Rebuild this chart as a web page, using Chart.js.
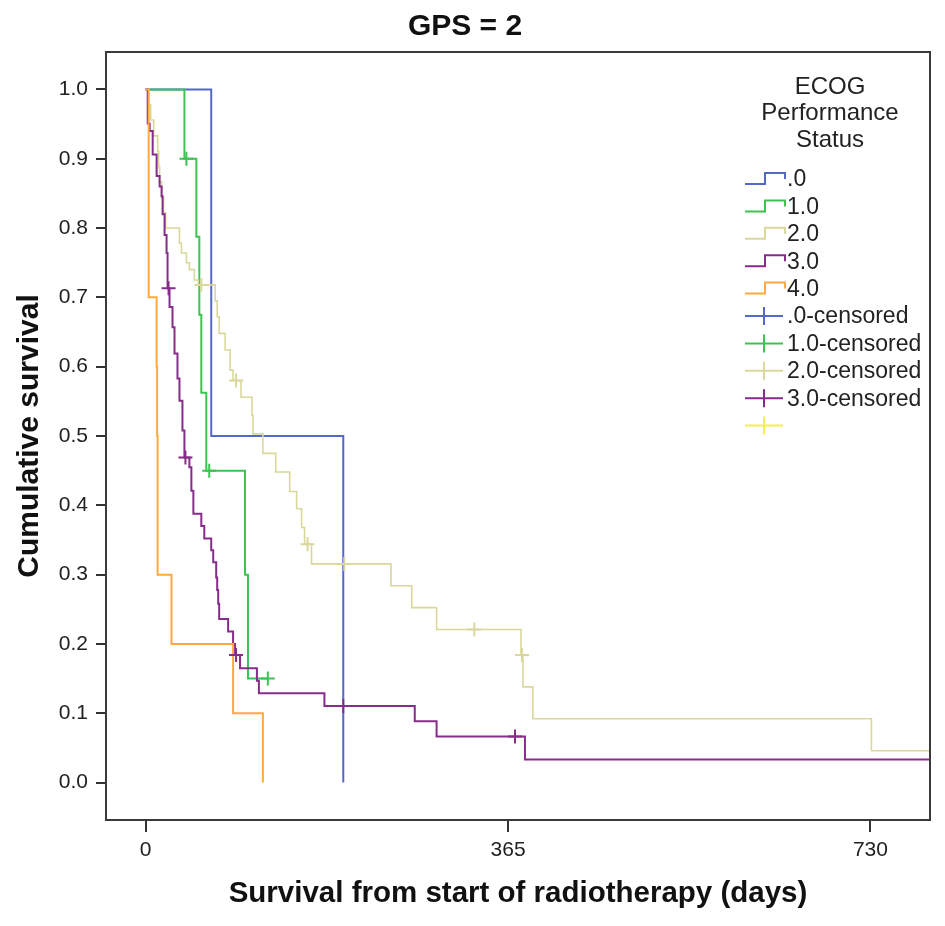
<!DOCTYPE html>
<html>
<head>
<meta charset="utf-8">
<script src="https://cdn.jsdelivr.net/npm/chart.js@4.4.1/dist/chart.umd.min.js"></script>
<style>
html,body{margin:0;padding:0;background:#ffffff;}
#wrap{width:945px;height:926px;position:relative;}
</style>
</head>
<body>
<div id="wrap"><canvas id="c"></canvas></div>
<script>
// ---------- text ----------
const chartTitle = 'GPS = 2';
const xAxisTitle = 'Survival from start of radiotherapy (days)';
const yAxisTitle = 'Cumulative survival';
const legendTitle = ['ECOG', 'Performance', 'Status'];
const groupLabels = ['.0', '1.0', '2.0', '3.0', '4.0'];
const censoredLabels = ['.0-censored', '1.0-censored', '2.0-censored', '3.0-censored', ''];

// ---------- ticks ----------
const xTickValues = [0, 365, 730];
const yTickValues = [0.0, 0.1, 0.2, 0.3, 0.4, 0.5, 0.6, 0.7, 0.8, 0.9, 1.0];

// ---------- ECOG .0 ----------
const ecog0Days = [0, 66, 199];
const ecog0Surv = [1.0, 0.5, 0.0];
const ecog0CensDays = [];
const ecog0CensSurv = [];

// ---------- ECOG 1.0 ----------
const ecog1Days = [0, 39, 51, 54, 56, 61, 100, 103, 123];
const ecog1Surv = [1.0, 0.9, 0.7875, 0.675, 0.5625, 0.45, 0.3, 0.15, 0.15];
const ecog1CensDays = [41, 64, 123];
const ecog1CensSurv = [0.9, 0.45, 0.15];

// ---------- ECOG 2.0 ----------
const ecog2Days = [0, 3, 5, 8, 12, 13, 14, 16, 18, 20, 34, 36, 41, 44, 49, 53, 70, 72, 74, 80, 85, 88, 96, 107, 108, 118, 131, 145, 152, 157, 160, 167, 247, 268, 293, 378, 380, 390, 731, 800];
const ecog2Surv = [1.0, 0.978, 0.956, 0.933, 0.911, 0.889, 0.867, 0.844, 0.822, 0.8, 0.778, 0.764, 0.75, 0.74, 0.725, 0.718, 0.695, 0.672, 0.648, 0.624, 0.595, 0.58, 0.556, 0.53, 0.503, 0.475, 0.448, 0.42, 0.395, 0.368, 0.344, 0.3155, 0.284, 0.2524, 0.2209, 0.184, 0.138, 0.092, 0.046, 0.046];
const ecog2CensDays = [56, 91, 163, 200, 331, 379];
const ecog2CensSurv = [0.718, 0.58, 0.344, 0.3155, 0.2209, 0.184];

// ---------- ECOG 3.0 ----------
const ecog3Days = [0, 2, 4, 7, 11, 14, 16, 17, 19, 21, 22, 24, 27, 29, 32, 34, 37, 39, 44, 46, 48, 56, 59, 66, 68, 71, 72, 73, 74, 83, 88, 90, 95, 112, 114, 180, 271, 293, 382, 800];
const ecog3Surv = [1.0, 0.951, 0.94, 0.906, 0.875, 0.86, 0.846, 0.82, 0.79, 0.764, 0.713, 0.686, 0.657, 0.619, 0.583, 0.551, 0.508, 0.469, 0.455, 0.421, 0.388, 0.37, 0.352, 0.335, 0.318, 0.296, 0.278, 0.258, 0.236, 0.218, 0.2, 0.184, 0.165, 0.147, 0.129, 0.1106, 0.0885, 0.0664, 0.0332, 0.0332];
const ecog3CensDays = [23, 40, 91, 199, 372];
const ecog3CensSurv = [0.713, 0.469, 0.184, 0.1106, 0.0664];

// ---------- ECOG 4.0 ----------
const ecog4Days = [0, 3, 11, 11.5, 12, 26, 88, 118];
const ecog4Surv = [1.0, 0.7, 0.6, 0.5, 0.3, 0.2, 0.1, 0.0];
const ecog4CensDays = [];
const ecog4CensSurv = [];

// ---------- styling ----------
const lineColors = ['#5468c8', '#3cc452', '#d9d89b', '#862d8a', '#ffa940'];
const censColors = ['#5468c8', '#3cc452', '#d9d89b', '#862d8a', '#f4ef55'];

const allDays = [ecog0Days, ecog1Days, ecog2Days, ecog3Days, ecog4Days];
const allSurv = [ecog0Surv, ecog1Surv, ecog2Surv, ecog3Surv, ecog4Surv];
const allCensDays = [ecog0CensDays, ecog1CensDays, ecog2CensDays, ecog3CensDays, ecog4CensDays];
const allCensSurv = [ecog0CensSurv, ecog1CensSurv, ecog2CensSurv, ecog3CensSurv, ecog4CensSurv];

function pts(days, surv) { return days.map((d, i) => ({x: d, y: surv[i]})); }

const datasets = [];
groupLabels.forEach((lab, i) => {
  datasets.push({
    type: 'line',
    label: lab,
    data: pts(allDays[i], allSurv[i]),
    stepped: true,
    borderColor: lineColors[i],
    borderWidth: i === 2 ? 1.6 : 2,
    pointRadius: 0,
    fill: false,
    order: 10 - i
  });
});
censoredLabels.forEach((lab, i) => {
  datasets.push({
    type: 'scatter',
    label: lab,
    data: pts(allCensDays[i], allCensSurv[i]),
    showLine: false,
    pointStyle: 'cross',
    pointRadius: 7,
    pointBorderWidth: 2,
    borderColor: censColors[i],
    backgroundColor: censColors[i],
    order: 0
  });
});

Chart.defaults.font.family = "'Liberation Sans', Arial, sans-serif";
Chart.defaults.color = '#222';

const framePlugin = {
  id: 'frame',
  afterDraw(chart) {
    const {ctx, chartArea: a} = chart;
    ctx.save();
    ctx.strokeStyle = '#3a3a3a';
    ctx.lineWidth = 2;
    ctx.strokeRect(a.left, a.top, a.right - a.left, a.bottom - a.top);
    ctx.restore();
  }
};

const spssLegend = {
  id: 'spssLegend',
  afterDatasetsDraw(chart) {
    const {ctx, chartArea: a} = chart;
    ctx.save();
    ctx.fillStyle = '#222';
    ctx.textBaseline = 'middle';
    ctx.font = "24px 'Liberation Sans', Arial, sans-serif";
    ctx.textAlign = 'center';
    const cx = a.right - 100;
    legendTitle.forEach((t, i) => ctx.fillText(t, cx, a.top + 35 + i * 26.5));
    ctx.textAlign = 'left';
    ctx.font = "23px 'Liberation Sans', Arial, sans-serif";
    const x0 = a.right - 185;
    const rowY = (k) => a.top + 127 + k * 27.4;
    groupLabels.forEach((lab, i) => {
      const y = rowY(i);
      ctx.strokeStyle = lineColors[i];
      ctx.lineWidth = 2;
      ctx.beginPath();
      ctx.moveTo(x0, y + 5);
      ctx.lineTo(x0 + 20, y + 5);
      ctx.lineTo(x0 + 20, y - 6);
      ctx.lineTo(x0 + 40, y - 6);
      ctx.lineTo(x0 + 40, y);
      ctx.stroke();
      ctx.fillText(lab, x0 + 42, y + 1);
    });
    censoredLabels.forEach((lab, i) => {
      const y = rowY(i + 5);
      ctx.strokeStyle = censColors[i];
      ctx.lineWidth = 2;
      ctx.beginPath();
      ctx.moveTo(x0, y);
      ctx.lineTo(x0 + 38, y);
      ctx.moveTo(x0 + 19, y - 9);
      ctx.lineTo(x0 + 19, y + 9);
      ctx.stroke();
      if (lab) ctx.fillText(lab, x0 + 42, y + 1);
    });
    ctx.restore();
  }
};

new Chart(document.getElementById('c'), {
  data: {datasets},
  plugins: [framePlugin, spssLegend],
  options: {
    responsive: true,
    maintainAspectRatio: false,
    animation: false,
    layout: {padding: {top: 0, right: 15, bottom: 0, left: 0}},
    plugins: {
      legend: {display: false},
      tooltip: {enabled: false},
      title: {
        display: true,
        text: chartTitle,
        color: '#111',
        font: {size: 30, weight: 'bold'},
        lineHeight: 1.2,
        padding: {top: 9, bottom: 7}
      }
    },
    scales: {
      x: {
        type: 'linear',
        min: -40,
        max: 790,
        afterBuildTicks: (s) => { s.ticks = xTickValues.map(v => ({value: v})); },
        afterFit: (s) => { s.height = 106; },
        grid: {display: true, drawOnChartArea: false, drawTicks: true, tickLength: 12, color: '#333', lineWidth: 2},
        border: {display: true, color: '#3a3a3a', width: 2},
        ticks: {font: {size: 21}, color: '#222', padding: 6, callback: (v) => String(v)},
        title: {display: true, text: xAxisTitle, color: '#111', font: {size: 29.5, weight: 'bold'}, padding: {top: 0, bottom: 14}}
      },
      y: {
        type: 'linear',
        min: -0.054,
        max: 1.054,
        afterBuildTicks: (s) => { s.ticks = yTickValues.map(v => ({value: v})); },
        afterFit: (s) => { s.width = 106; },
        grid: {display: true, drawOnChartArea: false, drawTicks: true, tickLength: 10, color: '#333', lineWidth: 2},
        border: {display: true, color: '#3a3a3a', width: 2},
        ticks: {font: {size: 21}, color: '#222', padding: 8, callback: (v) => Number(v).toFixed(1)},
        title: {display: true, text: yAxisTitle, color: '#111', font: {size: 30, weight: 'bold'}, padding: {top: 12, bottom: 0}}
      }
    }
  }
});
</script>
</body>
</html>
